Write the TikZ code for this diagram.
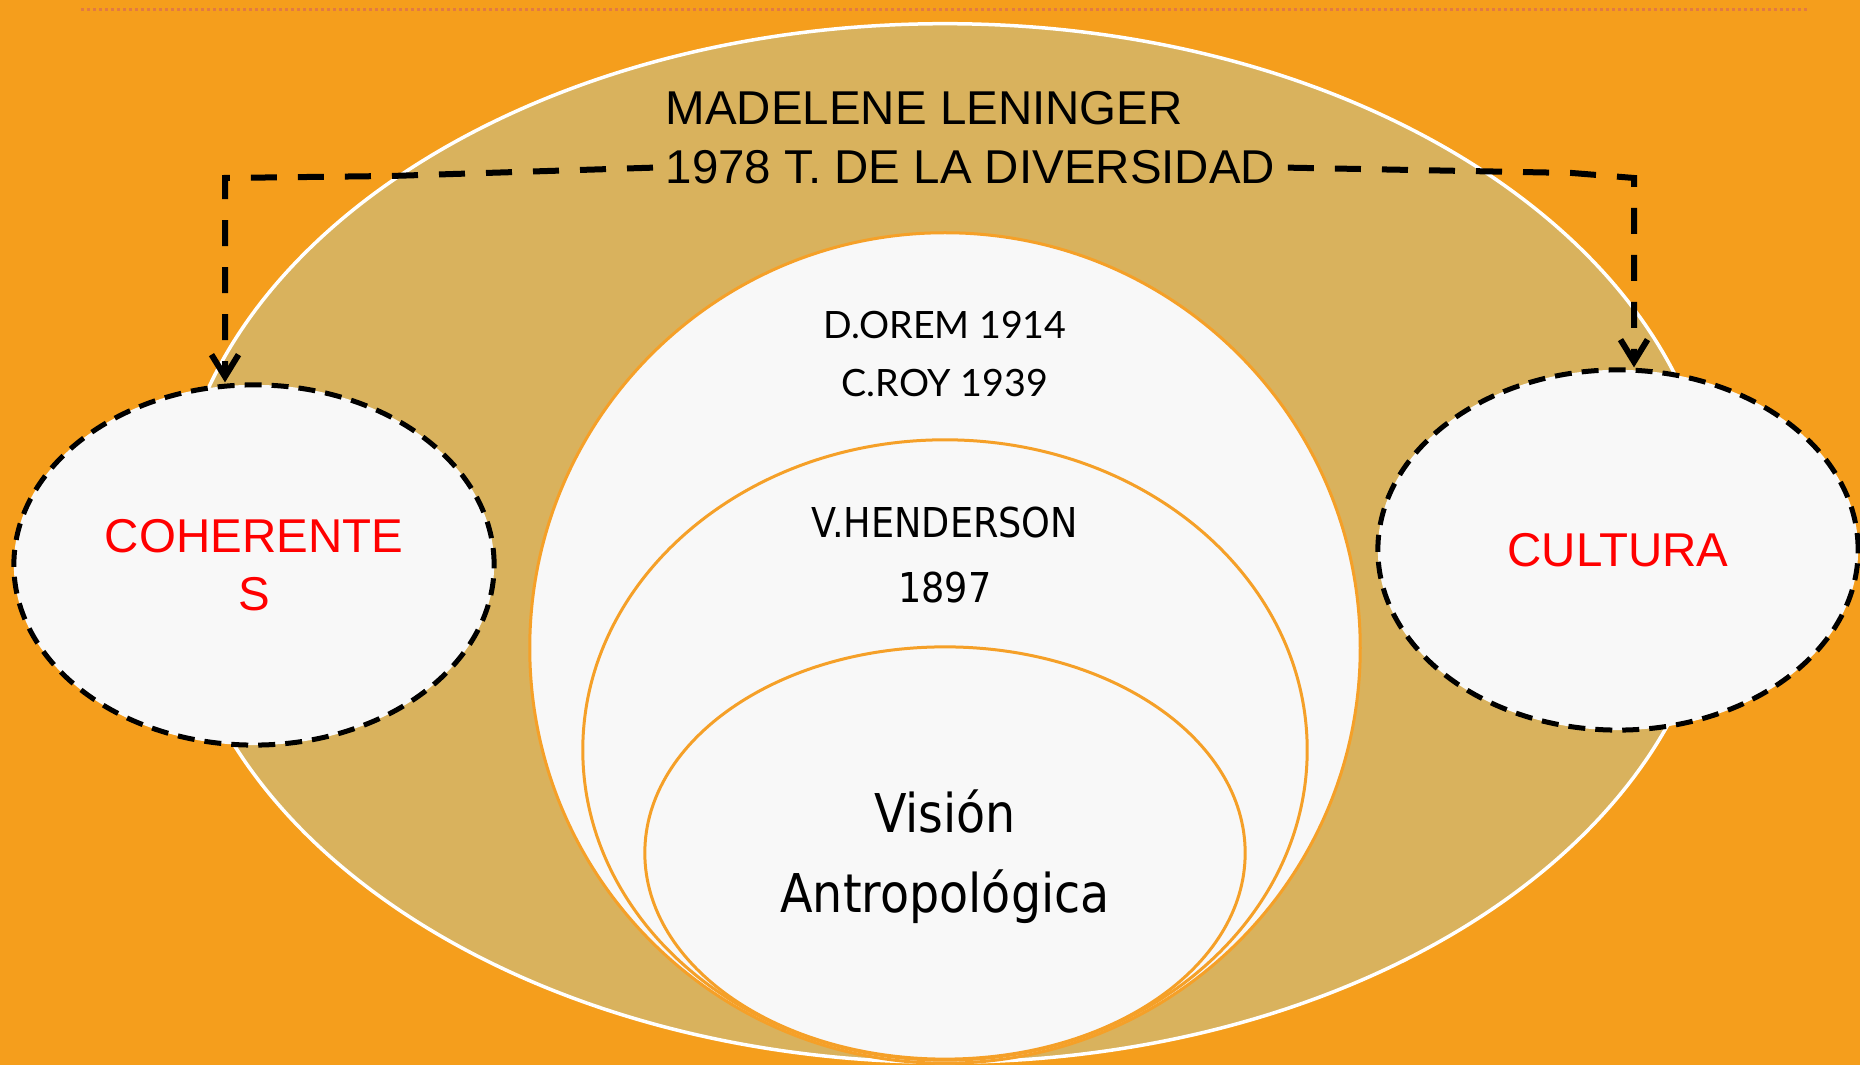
\documentclass[tikz,border=0pt]{standalone}
\usepackage{fontspec}
\setmainfont{Liberation Sans}
\newfontfamily\tahoma[FakeStretch=0.89]{DejaVu Sans}
\newfontfamily\gill{Lato}
\usetikzlibrary{shapes.geometric,arrows.meta}
\definecolor{fondo}{RGB}{245,158,28}
\definecolor{arena}{RGB}{217,178,93}
\definecolor{claro}{RGB}{248,248,248}
\definecolor{borde}{RGB}{245,160,40}
\definecolor{punteado}{RGB}{226,122,66}
\definecolor{rojo}{RGB}{255,0,0}
\begin{document}
\begin{tikzpicture}[x=0.01cm,y=-0.01cm,
  circulo/.style={ellipse,draw=borde,line width=0.03cm,fill=claro,inner sep=0pt},
  lateral/.style={ellipse,draw=black,line width=0.05cm,dash pattern=on 0.17cm off 0.1cm,
    fill=claro,inner sep=0pt,minimum width=4.8cm,minimum height=3.6cm,align=center,
    text=rojo,font=\fontsize{13.5}{16.5}\selectfont},
  titulo/.style={anchor=base west,inner sep=0pt,inner xsep=0.12cm,font=\fontsize{13.5}{16.5}\selectfont},
  flecha/.style={line width=0.06cm,dash pattern=on 0.26cm off 0.21cm,
    -{Straight Barb[length=0.22cm,width=0.27cm]}}]

% Fondo
\fill[fondo] (0,0) rectangle (1860,1065);
\useasboundingbox (0,0) rectangle (1860,1065);
\draw[punteado,line width=0.03cm,dash pattern=on 0.03cm off 0.03cm] (81,10) -- (1809,10);

% Elipse grande y circulos interiores
\node[ellipse,fill=arena,draw=white,line width=0.035cm,inner sep=0pt,
  minimum width=15.42cm,minimum height=10.38cm] (leninger) at (945,543) {};
\node[circulo,minimum width=8.3cm,minimum height=8.3cm] (orem) at (945,648) {};
\node[circulo,minimum width=7.24cm,minimum height=6.2cm] (henderson) at (945,750) {};
\node[circulo,minimum width=6.0cm,minimum height=4.12cm] (vision) at (945,853) {};

% Textos
\node[titulo] (autora) at (653,125) {MADELENE LENINGER};
\node[titulo] (teoria) at (653,184) {1978 T. DE LA DIVERSIDAD};
\node[anchor=base,font=\gill\fontsize{10.7}{13}\selectfont] (dorem) at (945,339) {D.OREM 1914};
\node[anchor=base,font=\gill\fontsize{10.7}{13}\selectfont] (croy) at (945,397) {C.ROY 1939};
\node[anchor=base,font=\tahoma\fontsize{11.7}{14}\selectfont] (vhend) at (945,538) {V.HENDERSON};
\node[anchor=base,font=\tahoma\fontsize{11.7}{14}\selectfont] (anio) at (945,603) {1897};
\node[anchor=base,font=\tahoma\fontsize{15.2}{18}\selectfont] (vis) at (945,833) {Visión};
\node[anchor=base,font=\tahoma\fontsize{15.2}{18}\selectfont] (antro) at (945,913) {Antropológica};

% Elipses laterales
\node[lateral] (coh) at (254,565) {COHERENTE\\S};
\node[lateral] (cul) at (1618,550) {CULTURA};

% Conectores
\coordinate (esqizq) at (225,178);
\coordinate (esqder) at (1634,178);
\draw[flecha] (teoria.west) -- (391,176) -- (esqizq) -- (esqizq |- coh.north);
\draw[flecha] (teoria.east) -- (1572,173) -- (esqder) -- (esqder |- cul.north);

\end{tikzpicture}
\end{document}
